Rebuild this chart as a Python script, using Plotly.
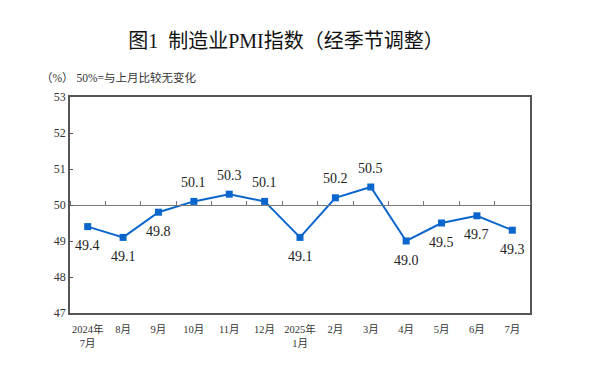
import plotly.graph_objects as go

categories = ["2024年<br>7月", "8月", "9月", "10月", "11月", "12月", "2025年<br>1月",
              "2月", "3月", "4月", "5月", "6月", "7月"]
pmi = [49.4, 49.1, 49.8, 50.1, 50.3, 50.1, 49.1, 50.2, 50.5, 49.0, 49.5, 49.7, 49.3]
label_side = ["below", "below", "below", "above", "above", "above", "below",
              "above", "above", "below", "below", "below", "below"]
y_ticks = [47, 48, 49, 50, 51, 52, 53]

SERIF = "Liberation Serif, Noto Sans CJK SC, serif"
BLUE = "#0a66cc"
AXIS = "#555555"

# page body has an 8px default margin; figure is sized/positioned to compensate
W, H = 592, 364
L, R, T, B = 62, 70, 89, 59
PW, PH = W - L - R, H - T - B

fig = go.Figure()
fig.add_trace(go.Scatter(
    x=categories, y=pmi, mode="lines+markers",
    line=dict(color=BLUE, width=2),
    marker=dict(symbol="square", size=7, color=BLUE),
    hoverinfo="skip", showlegend=False,
))
# invisible trace to carry the 50-line axis
fig.add_trace(go.Scatter(
    x=categories, y=pmi, xaxis="x2", yaxis="y", mode="markers",
    marker=dict(opacity=0), hoverinfo="skip", showlegend=False,
))

for c, v, s in zip(categories, pmi, label_side):
    fig.add_annotation(
        x=c, y=v, text=f"{v:.1f}", showarrow=False,
        yshift=19 if s == "above" else -19,
        font=dict(family=SERIF, size=14, color="#222222"),
    )

fig.update_layout(
    width=W, height=H,
    margin=dict(l=L, r=R, t=T, b=B, pad=0),
    paper_bgcolor="white", plot_bgcolor="white",
    title=dict(text="图1  制造业PMI指数（经季节调整）", x=278/W, xanchor="center",
               y=1-33/H, yanchor="middle", automargin=False,
               font=dict(family=SERIF, size=20, color="#111111")),
    xaxis=dict(
        type="category", categoryorder="array", categoryarray=categories,
        range=[-0.5, len(categories) - 0.5], autorange=False,
        showline=True, linecolor=AXIS, linewidth=1.5, mirror=True,
        ticks="outside", ticklen=6, tickcolor="rgba(0,0,0,0)",
        showgrid=False, zeroline=False, automargin=False,
        tickfont=dict(family=SERIF, size=10.5, color="#333333"),
    ),
    xaxis2=dict(
        type="category", categoryorder="array", categoryarray=categories,
        overlaying="x", matches="x", anchor="free", position=0.5, side="top",
        showline=True, linecolor="#777777", linewidth=1,
        ticks="outside", ticklen=4, tickcolor="#777777", tickson="boundaries",
        showticklabels=False, showgrid=False, zeroline=False, automargin=False,
    ),
    yaxis=dict(
        range=[47, 53], tickvals=y_ticks, ticktext=[str(t) for t in y_ticks],
        showline=True, linecolor=AXIS, linewidth=1.5, mirror=True,
        ticks="inside", ticklen=3, tickcolor=AXIS, automargin=False,
        showgrid=False, zeroline=False,
        tickfont=dict(family=SERIF, size=12, color="#333333"),
    ),
)
fig.add_annotation(
    xref="paper", yref="paper", x=(31-L)/PW, y=1+(T-69)/PH,
    xanchor="left", yanchor="middle", showarrow=False,
    text="（%） 50%=与上月比较无变化",
    font=dict(family=SERIF, size=11.5, color="#333333"),
)

fig.write_html("out.html")
